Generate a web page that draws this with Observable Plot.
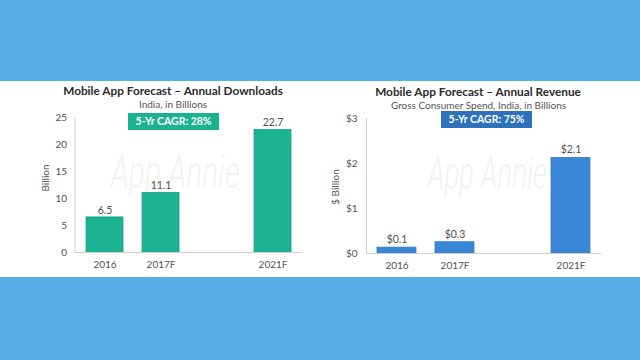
<!DOCTYPE html>
<html>
<head>
<meta charset="utf-8">
<script src="https://cdn.jsdelivr.net/npm/d3@7"></script>
<script src="https://cdn.jsdelivr.net/npm/@observablehq/plot@0.6"></script>
<style>
  html, body { margin: 0; padding: 0; }
  body { width: 640px; height: 360px; background: #58aee6; position: relative; overflow: hidden; font-family: Lato, "Open Sans", sans-serif; }
  #panel { position: absolute; left: 0; top: 81px; width: 640px; height: 196px; background: #fff; }
  .title { position: absolute; font-weight: 700; font-size: 11.8px; line-height: 1; color: #2b2b2b; white-space: nowrap; transform: translate(-50%, -50%); }
  .sub { position: absolute; font-size: 10px; line-height: 1; color: #555; white-space: nowrap; transform: translate(-50%, -50%); }
  .ylab { position: absolute; font-size: 10px; line-height: 1; color: #555; white-space: nowrap; transform: translate(-50%, -50%) rotate(-90deg); }
  .cagr { position: absolute; color: #fff; font-weight: 700; font-size: 10.5px; text-align: center; box-sizing: border-box; }
  .wm { position: absolute; font-family: Roboto, sans-serif; font-style: italic; font-weight: 300; font-size: 46px; line-height: 1; color: #f2f2f2; white-space: nowrap; }
  .chart { position: absolute; top: 81px; }
  .chart svg { background: transparent !important; }
  .chart svg text { fill: #505050; }
</style>
</head>
<body>
<div id="panel"></div>
<div class="wm" id="wm1">App Annie</div>
<div class="wm" id="wm2">App Annie</div>
<div class="chart" id="c1" style="left:0"></div>
<div class="chart" id="c2" style="left:320px"></div>
<div class="title" style="left:173px; top:91px">Mobile App Forecast – Annual Downloads</div>
<div class="sub" style="left:173px; top:103.5px">India, in Billions</div>
<div class="title" style="left:478px; top:92px">Mobile App Forecast – Annual Revenue</div>
<div class="sub" style="left:478.5px; top:104.5px">Gross Consumer Spend, India, in Billions</div>
<div class="ylab" style="left:45px; top:178px">Billion</div>
<div class="ylab" style="left:335px; top:187px">$ Billion</div>
<div class="cagr" id="k1" style="left:128px; top:113px; width:91px; height:17px; line-height:17px; background:#1bb38f">5-Yr CAGR: 28%</div>
<div class="cagr" id="k2" style="left:441px; top:110.5px; width:91px; height:17px; line-height:17px; background:#2e72bd">5-Yr CAGR: 75%</div>
<script>
const years = ["2016", "2017F", "2021F"];
const downloads = [6.5, 11.0, 22.7];
const downloadLabels = ["6.5", "11.1", "22.7"];
const revenue = [0.13, 0.25, 2.12];
const revenueLabels = ["$0.1", "$0.3", "$2.1"];
const downloadTicks = [0, 5, 10, 15, 20, 25];
const revenueTicks = [0, 1, 2, 3];
const xDomain = ["2016", "2017F", "gap", "2021F"];

const dl = years.map((y, i) => ({year: y, value: downloads[i], label: downloadLabels[i]}));
const rv = years.map((y, i) => ({year: y, value: revenue[i], label: revenueLabels[i]}));

const common = {
  width: 320, height: 196,
  style: {fontFamily: "Lato, 'Open Sans', sans-serif", fontSize: "10px", color: "#d0d0d0", background: "transparent"}
};

const p1 = Plot.plot({
  ...common,
  marginTop: 36, marginBottom: 25, marginLeft: 74.5, marginRight: 17.5,
  x: {domain: xDomain, ticks: years, paddingInner: 0.333, paddingOuter: 0.1667, tickSize: 0, tickPadding: 8, label: null},
  y: {domain: [0, 25], ticks: downloadTicks, tickSize: 0, tickPadding: 8, line: true, label: null},
  marks: [
    Plot.barY(dl, {x: "year", y: "value", fill: "#1bb394", stroke: "#17a587", strokeWidth: 0.8}),
    Plot.ruleY([0], {stroke: "#d0d0d0"}),
    Plot.text(dl, {x: "year", y: "value", text: "label", dy: -7, fontSize: 10.5})
  ]
});
document.getElementById("c1").appendChild(p1);

const p2 = Plot.plot({
  ...common,
  marginTop: 37, marginBottom: 24, marginLeft: 46, marginRight: 39,
  x: {domain: xDomain, ticks: years, paddingInner: 0.333, paddingOuter: 0.1667, tickSize: 0, tickPadding: 8, label: null},
  y: {domain: [0, 3], ticks: revenueTicks, tickFormat: d => "$" + d, tickSize: 0, tickPadding: 9, line: true, label: null},
  marks: [
    Plot.barY(rv, {x: "year", y: "value", fill: "#3a87d8", stroke: "#3278c6", strokeWidth: 0.8}),
    Plot.ruleY([0], {stroke: "#d0d0d0"}),
    Plot.text(rv, {x: "year", y: "value", text: "label", dy: -8, fontSize: 10.5})
  ]
});
document.getElementById("c2").appendChild(p2);

// place watermarks (decorative background text)
function placeWm(id, cx, cy, sx) {
  const el = document.getElementById(id);
  el.style.left = "0px"; el.style.top = "0px";
  const r = el.getBoundingClientRect();
  el.style.left = (cx - r.width / 2) + "px";
  el.style.top = (cy - r.height / 2) + "px";
  el.style.transform = "scaleX(" + sx + ")";
}
placeWm("wm1", 175, 172, 0.65);
placeWm("wm2", 487, 172.5, 0.6);
</script>
</body>
</html>
